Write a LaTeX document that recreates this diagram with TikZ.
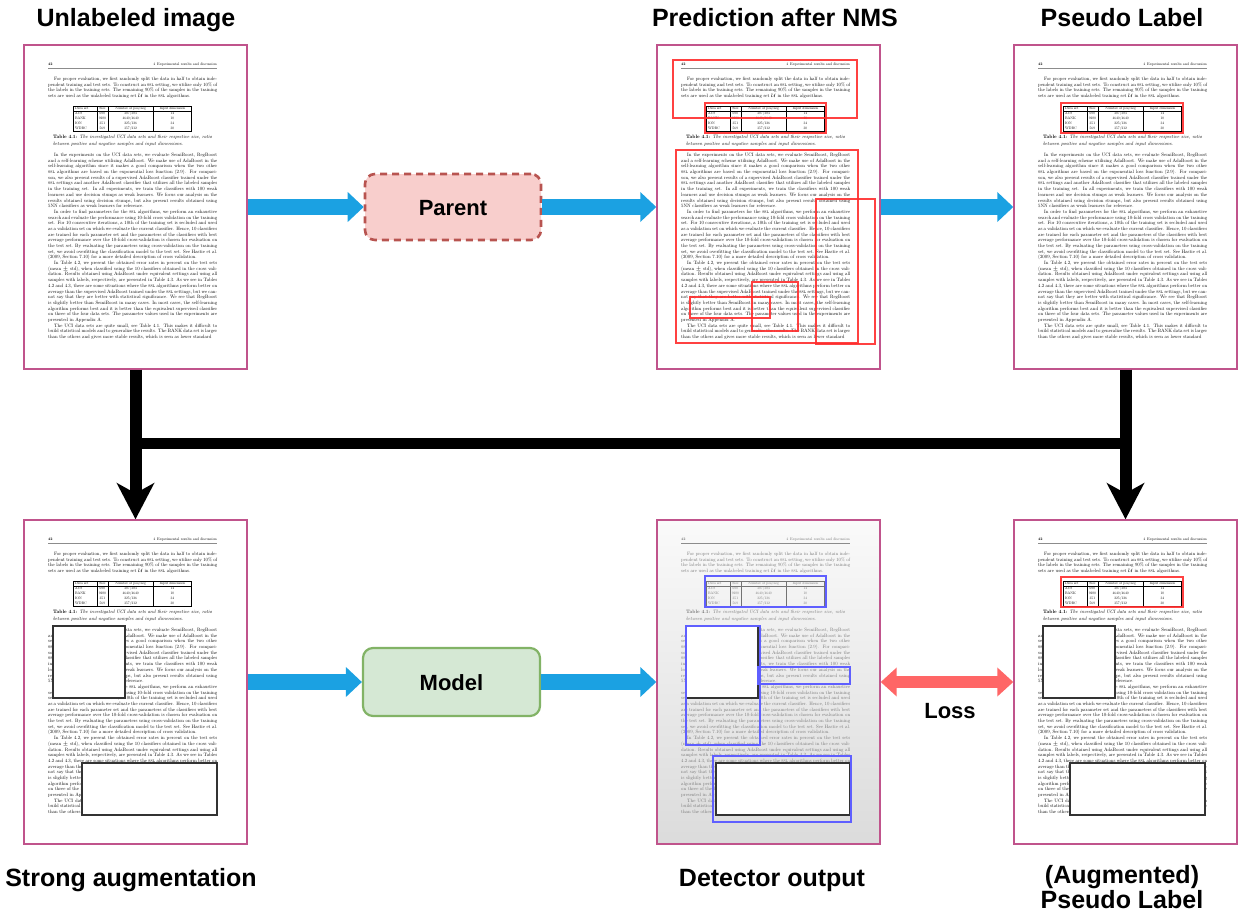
\documentclass[tikz,border=0pt]{standalone}
\usepackage{fontspec}
\usepackage{array}
\usetikzlibrary{arrows.meta}
\newfontfamily\labelfont{Liberation Sans}
% Latin Modern at its 10pt design size, scaled down for the tiny page text
\newfontfamily\pagefont{lmroman10}[Extension=.otf,
  UprightFont=*-regular, BoldFont=*-bold, ItalicFont=*-italic,
  BoldItalicFont=*-bolditalic, SmallCapsFont=lmromancaps10-regular]

\definecolor{framepink}{RGB}{192,84,140}
\definecolor{flowblue}{RGB}{27,161,226}
\definecolor{parentfill}{RGB}{248,206,204}
\definecolor{parentline}{RGB}{184,84,80}
\definecolor{modelfill}{RGB}{213,232,212}
\definecolor{modelline}{RGB}{130,179,102}
\definecolor{lossred}{RGB}{255,102,102}
\definecolor{predred}{RGB}{255,45,45}
\definecolor{detblue}{RGB}{95,95,255}

% ---------- sample thesis page ----------
\newcommand\introtext{For proper evaluation, we first randomly split the data in half to obtain independent training and test sets. To construct an \textsc{ssl} setting, we utilize only 10\% of the labels in the training sets. The remaining 90\% of the samples in the training sets are used as the unlabeled training set $\mathcal{U}$ in the \textsc{ssl} algorithms.}

\newcommand\captiontext{\textbf{Table 4.1:} \textit{The investigated UCI data sets and their respective size, ratio between positive and negative samples and input dimensions.}}

\newcommand\bodytext{In the experiments on the UCI data sets, we evaluate SemiBoost, RegBoost and a self-learning scheme utilizing AdaBoost. We make use of AdaBoost in the self-learning algorithm since it makes a good comparison when the two other \textsc{ssl} algorithms are based on the exponential loss function (2.9). For comparison, we also present results of a supervised AdaBoost classifier trained under the \textsc{ssl} settings and another AdaBoost classifier that utilizes all the labeled samples in the training set. In all experiments, we train the classifiers with 100 weak learners and use decision stumps as weak learners. We focus our analysis on the results obtained using decision stumps, but also present results obtained using 5NN classifiers as weak learners for reference.\par
In order to find parameters for the \textsc{ssl} algorithms, we perform an exhaustive search and evaluate the performance using 10-fold cross validation on the training set. For 10 consecutive iterations, a 10th of the training set is secluded and used as a validation set on which we evaluate the current classifier. Hence, 10 classifiers are trained for each parameter set and the parameters of the classifiers with best average performance over the 10-fold cross-validation is chosen for evaluation on the test set. By evaluating the parameters using cross-validation on the training set, we avoid overfitting the classification model to the test set. See Hastie et al. (2009, Section 7.10) for a more detailed description of cross validation.\par
In Table 4.2, we present the obtained error rates in percent on the test sets (mean $\pm$ std), when classified using the 10 classifiers obtained in the cross validation. Results obtained using AdaBoost under equivalent settings and using all samples with labels, respectively, are presented in Table 4.3. As we see in Tables 4.2 and 4.3, there are some situations where the \textsc{ssl} algorithms perform better on average than the supervised AdaBoost trained under the \textsc{ssl} settings, but we cannot say that they are better with statistical significance. We see that RegBoost is slightly better than SemiBoost in many cases. In most cases, the self-learning algorithm performs best and it is better than the equivalent supervised classifier on three of the four data sets. The parameter values used in the experiments are presented in Appendix A.\par
The UCI data sets are quite small, see Table 4.1. This makes it difficult to build statistical models and to generalize the results. The BANK data set is larger than the others and gives more stable results, which is seen as lower standard}

\newcommand\datatable{{\pagefont\fontsize{3.6}{4.8}\selectfont\setlength\tabcolsep{1.5pt}\setlength\arrayrulewidth{0.3pt}%
\begin{tabular}{|p{20pt}|>{\centering\arraybackslash}p{8pt}|>{\centering\arraybackslash}p{42pt}|>{\centering\arraybackslash}p{35pt}|}\hline
Data set & Size & Number of pos/neg & Input dimension\\\hline
AUS & 690 & 307/383 & 14\\
BANK & 9280 & 4640/4640 & 10\\
ION & 351 & 225/126 & 34\\
WDBC & 569 & 357/212 & 30\\\hline
\end{tabular}}}

\tikzset{
  docpage/.style={draw=framepink, line width=1.4pt, fill=white,
    minimum width=223pt, minimum height=324pt, inner sep=0pt},
  pagehead/.style={inner sep=0pt, font=\pagefont\fontsize{3.8}{4.5}\selectfont},
  headrule/.style={line width=0.3pt, black!45},
  pagebody/.style={inner sep=0pt, text width=169pt, align=justify,
    font=\pagefont\fontsize{4.8}{5.69}\selectfont},
  pagecap/.style={inner sep=0pt, text width=159pt, align=justify,
    font=\pagefont\fontsize{4.9}{6.6}\selectfont},
  title/.style={inner sep=0pt, anchor=base, font=\labelfont\bfseries\fontsize{25}{30}\selectfont},
  boxlabel/.style={inner sep=0pt, anchor=base, font=\labelfont\bfseries\fontsize{22}{26}\selectfont},
  parentbox/.style={draw=parentline, fill=parentfill, line width=2.6pt,
    dash pattern=on 7pt off 5pt, rounded corners=10pt,
    minimum width=176pt, minimum height=66pt},
  modelbox/.style={draw=modelline, fill=modelfill, line width=2.2pt,
    rounded corners=10pt, minimum width=177pt, minimum height=68pt},
  flow/.style={draw=flowblue, line width=16pt, -{Triangle[length=16pt,width=29pt]}},
  feed/.style={draw=black, line width=12pt, -{Stealth[length=36pt,width=37pt,inset=10pt]}},
  feedbar/.style={draw=black, line width=11.5pt},
  lossarrow/.style={draw=lossred, line width=12pt,
    {Triangle[length=16pt,width=28pt]}-{Triangle[length=16pt,width=28pt]}},
  predbox/.style={draw=predred, draw opacity=0.9, line width=1.2pt},
  detbox/.style={draw=detblue, line width=1.2pt},
  maskbox/.style={draw=black!80, fill=white, line width=1.3pt},
}

% #1 name prefix, #2 centre x, #3 centre y, #4 text colour
\newcommand\pagetext[4]{%
  \begin{scope}[shift={(#2-111.5,#3-162)}, text=#4]
    \node[pagehead, anchor=base west] (#1-no) at (24,20.5) {\textbf{42}};
    \node[pagehead, anchor=base east] (#1-run) at (193,20.5) {4\enspace Experimental results and discussion};
    \draw[headrule] (24,22.8) -- (193,22.8);
    \node[pagebody, anchor=base west] (#1-intro) at (24,35.5)
      {\setlength\parindent{6pt}\indent\introtext};
    \node[inner sep=0pt, anchor=north] (#1-tab) at (108.5,61) {\datatable};
    \node[pagecap, anchor=base west] (#1-cap) at (29,93.5) {\captiontext};
    \node[pagebody, anchor=base west] (#1-body) at (24,111.5)
      {\setlength\parindent{6pt}\indent\bodytext};
  \end{scope}}

\begin{document}
\begin{tikzpicture}[x=1pt, y=-1pt]
\useasboundingbox (0,0) rectangle (1244,913);

% titles
\node[title] (t1) at (136,26.7) {Unlabeled image};
\node[title] (t2) at (775,26.7) {Prediction after NMS};
\node[title] (t3) at (1122,26.7) {Pseudo Label};
\node[title] (t4) at (131,886.7) {Strong augmentation};
\node[title] (t5) at (772,886.7) {Detector output};
\node[title] (t6a) at (1122,883.3) {(Augmented)};
\node[title] (t6b) at (1122,908.3) {Pseudo Label};

% pages
\node[docpage] (p1) at (135.5,207) {};
\node[docpage] (p2) at (768.5,207) {};
\node[docpage] (p3) at (1125.5,207) {};
\node[docpage] (p4) at (135.5,682) {};
\node[docpage, top color=white!98!black, bottom color=white!86!black] (p5) at (768.5,682) {};
\node[docpage] (p6) at (1125.5,682) {};

\pagetext{q1}{135.5}{207}{black}
\pagetext{q2}{768.5}{207}{black}
\pagetext{q3}{1125.5}{207}{black}
\pagetext{q4}{135.5}{682}{black}
\pagetext{q5}{768.5}{682}{black!55}
\pagetext{q6}{1125.5}{682}{black}

% predictions after NMS
\begin{scope}[shift={(657,45)}]
  \draw[predbox] (16,15) rectangle (200,73);
  \draw[predbox] (48,58) rectangle (169,88);
  \draw[predbox] (19,105) rectangle (201,298);
  \draw[predbox] (159,154) rectangle (218,299);
  \draw[predbox] (95,237) rectangle (141,286);
  \draw[predbox] (33,252) rectangle (113,273);
\end{scope}
% pseudo label
\begin{scope}[shift={(1014,45)}]
  \draw[predbox] (47,58) rectangle (169,88);
\end{scope}
% strong augmentation
\begin{scope}[shift={(24,520)}]
  \draw[maskbox] (29,106) rectangle (101,178);
  \draw[maskbox] (58,243) rectangle (193,295);
\end{scope}
% detector output
\begin{scope}[shift={(657,520)}]
  \draw[maskbox] (29,106) rectangle (101,178);
  \draw[maskbox] (59,243) rectangle (193,295);
  \draw[detbox] (48,56) rectangle (169,87);
  \draw[detbox] (29,106) rectangle (103,225);
  \draw[detbox] (101,147) rectangle (193,164);
  \draw[detbox] (56,236) rectangle (194,302);
\end{scope}
% augmented pseudo label
\begin{scope}[shift={(1014,520)}]
  \draw[maskbox] (29,106) rectangle (101,178);
  \draw[maskbox] (56,243) rectangle (191,295);
  \draw[predbox] (47,57) rectangle (169,87);
\end{scope}

% processing boxes
\node[parentbox] (parent) at (453,207) {};
\node[boxlabel] (parentlbl) at (453,215) {Parent};
\node[modelbox] (model) at (451.5,682) {};
\node[boxlabel] (modellbl) at (451.5,690) {Model};

% data flow
\draw[flow] (p1) -- (parent);
\draw[flow] (parent) -- (p2);
\draw[flow] (p2) -- (p3);
\draw[flow] (p4) -- (model);
\draw[flow] (model) -- (p5);

\coordinate (barL) at ([yshift=-74pt]p1.south);
\coordinate (barR) at (barL -| p3.south);
\draw[feedbar] (barL) -- (barR);
\draw[feed] (p1.south) -- (p4.north);
\draw[feed] (p3.south) -- (p6.north);

\draw[lossarrow] (p5) -- (p6);
\node[boxlabel] (loss) at (950,718) {Loss};
\end{tikzpicture}
\end{document}
